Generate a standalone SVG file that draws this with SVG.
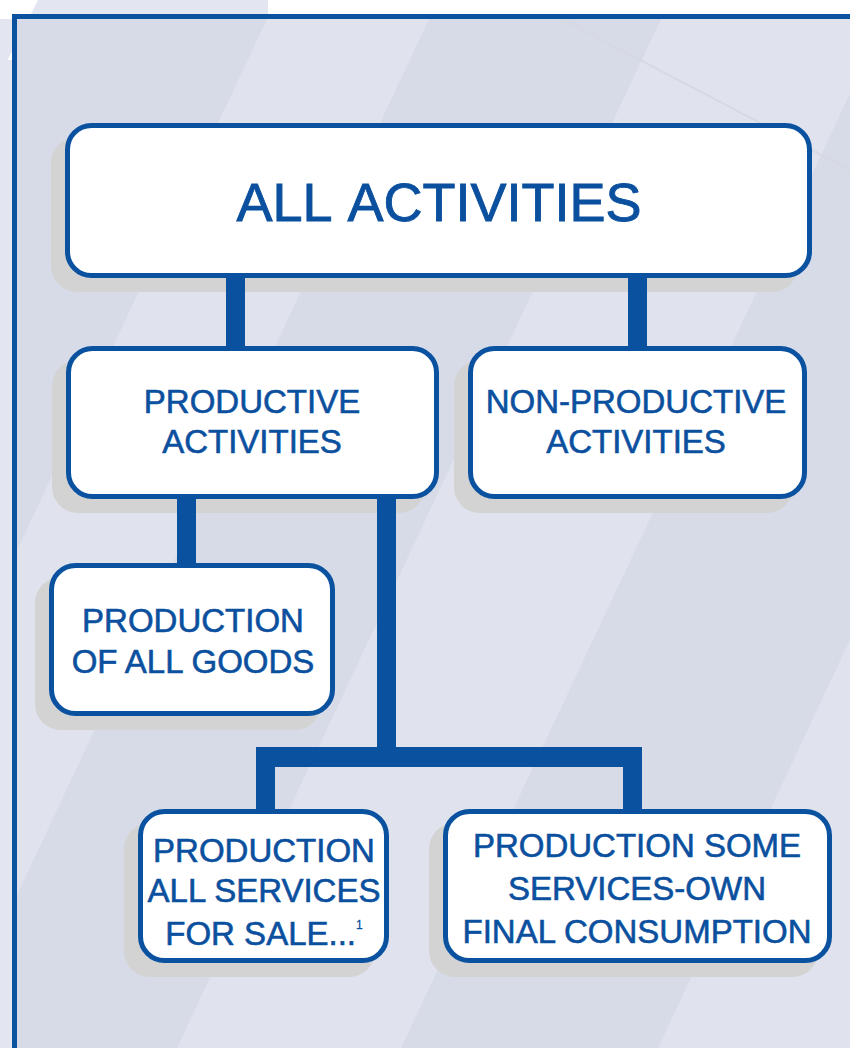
<svg xmlns="http://www.w3.org/2000/svg" width="850" height="1048" viewBox="0 0 850 1048">
  <defs>
    <style>
      .box { fill: #ffffff; stroke: #0a52a0; stroke-width: 5; }
      .shadow { fill: #d3d3d3; }
      .conn { fill: #0a52a0; }
      .lbl { font-family: "Liberation Sans", Arial, sans-serif; fill: #0b509e; stroke: #0b509e; stroke-width: 0.6; text-anchor: middle; font-size: 33px; }
      .big { font-size: 54px; stroke-width: 0.9; word-spacing: 5px; }
      .dark { fill: #d6dbe7; }
    </style>
    <clipPath id="inner">
      <rect x="17" y="19" width="840" height="1040"/>
    </clipPath>
  </defs>

  <!-- page background -->
  <rect x="0" y="0" width="850" height="1048" fill="#ffffff"/>
  <polygon points="0,75 38,0 268,0 268,19 0,19" fill="#e3e6f0"/>
  <rect x="0" y="60" width="14" height="988" fill="#e3e6f0"/>

  <!-- framed panel -->
  <g id="panel">
    <rect x="14.5" y="16.5" width="900" height="1100" fill="#e0e3ed" stroke="#0a52a0" stroke-width="5"/>
    <g clip-path="url(#inner)">
      <polygon class="dark" points="0,0 276,0 -217,1048 -500,1048"/>
      <polygon class="dark" points="438,0 670,0 177,1048 -55,1048"/>
      <polygon class="dark" points="894,0 1151,0 658,1048 401,1048"/>
      <line x1="560" y1="18" x2="850" y2="170" stroke="#d6d9e2" stroke-width="2"/>
    </g>
  </g>

  <!-- shadows -->
  <g id="shadows">
    <rect class="shadow" x="51" y="137" width="747" height="155" rx="26"/>
    <rect class="shadow" x="52" y="360" width="373" height="153" rx="26"/>
    <rect class="shadow" x="454" y="360" width="339" height="153" rx="26"/>
    <rect class="shadow" x="35" y="577" width="286" height="153" rx="26"/>
    <rect class="shadow" x="124" y="823" width="251" height="154" rx="26"/>
    <rect class="shadow" x="429" y="823" width="389" height="154" rx="26"/>
  </g>

  <!-- connectors -->
  <g id="connectors">
    <rect class="conn" x="226" y="274" width="19" height="76"/>
    <rect class="conn" x="628" y="274" width="19" height="76"/>
    <rect class="conn" x="177" y="495" width="19" height="72"/>
    <rect class="conn" x="377" y="495" width="19" height="262"/>
    <rect class="conn" x="256" y="747" width="386" height="20"/>
    <rect class="conn" x="256" y="747" width="19" height="66"/>
    <rect class="conn" x="623" y="747" width="19" height="66"/>
  </g>

  <g id="all-activities">
    <rect class="box" x="67.5" y="125.5" width="742" height="150" rx="24"/>
    <text class="lbl big" x="439" y="221">ALL ACTIVITIES</text>
  </g>

  <g id="productive">
    <rect class="box" x="68.5" y="348.5" width="368" height="148" rx="24"/>
    <text class="lbl" x="252" y="413">PRODUCTIVE</text>
    <text class="lbl" x="252" y="453">ACTIVITIES</text>
  </g>

  <g id="non-productive">
    <rect class="box" x="470.5" y="348.5" width="334" height="148" rx="24"/>
    <text class="lbl" x="636" y="413">NON-PRODUCTIVE</text>
    <text class="lbl" x="636" y="453">ACTIVITIES</text>
  </g>

  <g id="goods">
    <rect class="box" x="51.5" y="565.5" width="281" height="148" rx="24"/>
    <text class="lbl" x="193" y="632">PRODUCTION</text>
    <text class="lbl" x="193" y="673">OF ALL GOODS</text>
  </g>

  <g id="services-sale">
    <rect class="box" x="140.5" y="811.5" width="246" height="149" rx="24"/>
    <text class="lbl" x="264" y="862">PRODUCTION</text>
    <text class="lbl" x="264" y="902">ALL SERVICES</text>
    <text class="lbl" x="264" y="945">FOR SALE...<tspan font-size="12" stroke-width="0.3" dy="-16">1</tspan></text>
  </g>

  <g id="services-own">
    <rect class="box" x="445.5" y="811.5" width="384" height="149" rx="24"/>
    <text class="lbl" x="637" y="857">PRODUCTION SOME</text>
    <text class="lbl" x="637" y="900">SERVICES-OWN</text>
    <text class="lbl" x="637" y="943">FINAL CONSUMPTION</text>
  </g>
</svg>
